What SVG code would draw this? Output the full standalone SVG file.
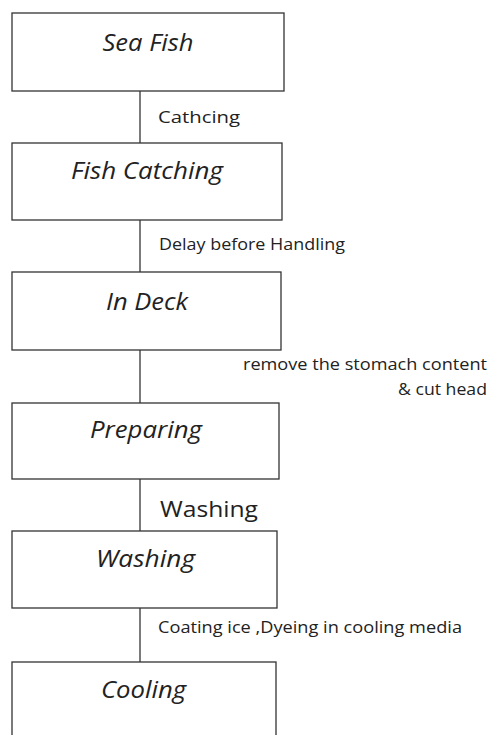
<svg xmlns="http://www.w3.org/2000/svg" width="489" height="735" viewBox="0 0 489 735">
<style>
.box{fill:#fff;stroke:#333;stroke-width:1.3}
.conn{stroke:#333;stroke-width:1.3;fill:none}
.nt{font-family:"Open Sans","Noto Sans",sans-serif;font-style:italic;font-size:23px;fill:#222;text-anchor:middle}
.lt{font-family:"Open Sans","Noto Sans",sans-serif;fill:#222}
</style>
<rect width="489" height="735" fill="#fff"/>
<g id="connectors">
<line class="conn" x1="140" y1="91" x2="140" y2="143"/>
<line class="conn" x1="140" y1="220" x2="140" y2="272"/>
<line class="conn" x1="140" y1="350" x2="140" y2="403"/>
<line class="conn" x1="140" y1="479" x2="140" y2="531"/>
<line class="conn" x1="140" y1="608" x2="140" y2="662"/>
<text class="lt" x="158" y="123" font-size="17" textLength="82" lengthAdjust="spacingAndGlyphs">Cathcing</text>
<text class="lt" x="159" y="250" font-size="15.5" textLength="186" lengthAdjust="spacingAndGlyphs">Delay before Handling</text>
<text class="lt" x="243" y="370" font-size="16.5" textLength="244" lengthAdjust="spacingAndGlyphs">remove the stomach content</text>
<text class="lt" x="398" y="395" font-size="16.5" textLength="89" lengthAdjust="spacingAndGlyphs">&amp; cut head</text>
<text class="lt" x="160" y="517" font-size="22" textLength="98" lengthAdjust="spacingAndGlyphs">Washing</text>
<text class="lt" x="158" y="633" font-size="15.5" textLength="304" lengthAdjust="spacingAndGlyphs">Coating ice ,Dyeing in cooling media</text>
</g>
<g id="n1"><rect class="box" x="12" y="13" width="272" height="78"/><text class="nt" x="148" y="51" textLength="91" lengthAdjust="spacingAndGlyphs">Sea Fish</text></g>
<g id="n2"><rect class="box" x="12" y="143" width="270" height="77"/><text class="nt" x="147" y="179" textLength="152" lengthAdjust="spacingAndGlyphs">Fish Catching</text></g>
<g id="n3"><rect class="box" x="12" y="272" width="269" height="78"/><text class="nt" x="147" y="310" textLength="82" lengthAdjust="spacingAndGlyphs">In Deck</text></g>
<g id="n4"><rect class="box" x="12" y="403" width="267" height="76"/><text class="nt" x="146" y="438" textLength="112" lengthAdjust="spacingAndGlyphs">Preparing</text></g>
<g id="n5"><rect class="box" x="12" y="531" width="265" height="77"/><text class="nt" x="145.5" y="567" textLength="99" lengthAdjust="spacingAndGlyphs">Washing</text></g>
<g id="n6"><rect class="box" x="12" y="662" width="264" height="80"/><text class="nt" x="143.5" y="698" textLength="85" lengthAdjust="spacingAndGlyphs">Cooling</text></g>
</svg>
